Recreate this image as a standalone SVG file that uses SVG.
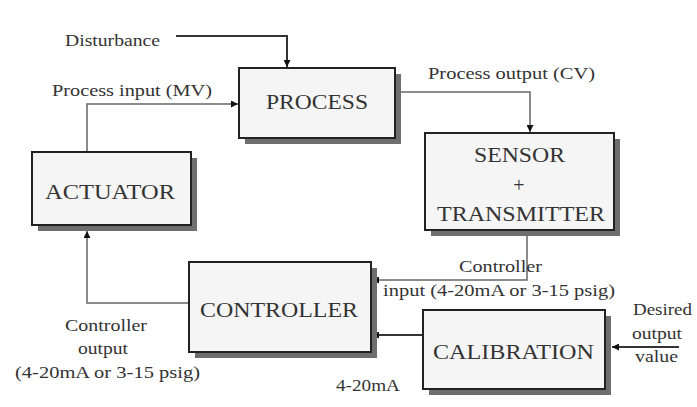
<svg xmlns="http://www.w3.org/2000/svg" width="697" height="407" viewBox="0 0 697 407">
<style>
.shadow{fill:#6e6e6e;}
.box{fill:#f5f5f5;stroke:#222;stroke-width:2;}
text{font-family:"Times New Roman","Liberation Serif",Tinos,"DejaVu Serif",serif;fill:#333;}
.lbl{font-size:17px;}
.big{font-size:20px;}
.con{fill:none;stroke:#666;stroke-width:1.5;}
.dist{fill:none;stroke:#333;stroke-width:2;}
</style>
<defs>
<marker id="ah" viewBox="0 0 10 10" refX="10" refY="5" markerWidth="7" markerHeight="7" markerUnits="userSpaceOnUse" orient="auto">
<path d="M0,0 L10,5 L0,10 z" fill="#111"/>
</marker>
</defs>
<rect width="697" height="407" fill="#ffffff"/>
<g id="connectors">
<path class="dist" d="M176,36 H287 V67" marker-end="url(#ah)"/>
<path class="con" d="M87,152 V104 H238" marker-end="url(#ah)"/>
<path class="con" d="M395,92 H530 V132" marker-end="url(#ah)"/>
<path class="con" d="M527,236 V280 H372" marker-end="url(#ah)"/>
<path class="con" d="M423,335 H372" marker-end="url(#ah)" style="stroke:#333;stroke-width:2"/>
<path class="con" d="M189,303 H87 V231" marker-end="url(#ah)"/>
<path class="dist" d="M679,347 H612" marker-end="url(#ah)"/>
</g>
<g id="process">
<rect class="shadow" x="245" y="74" width="156" height="70"/>
<rect class="box" x="239" y="68" width="156" height="70"/>
<text class="big" x="266" y="109" textLength="102" lengthAdjust="spacingAndGlyphs">PROCESS</text>
</g>
<g id="sensor">
<rect class="shadow" x="431" y="139" width="189" height="97"/>
<rect class="box" x="425" y="133" width="189" height="97"/>
<text class="big" x="474" y="162" textLength="91" lengthAdjust="spacingAndGlyphs">SENSOR</text>
<text class="big" x="519" y="192" text-anchor="middle">+</text>
<text class="big" x="437" y="221" textLength="168" lengthAdjust="spacingAndGlyphs">TRANSMITTER</text>
</g>
<g id="actuator">
<rect class="shadow" x="38" y="158" width="159" height="73"/>
<rect class="box" x="32" y="152" width="159" height="73"/>
<text class="big" x="45" y="199" textLength="130" lengthAdjust="spacingAndGlyphs">ACTUATOR</text>
</g>
<g id="controller">
<rect class="shadow" x="195" y="268" width="182" height="90"/>
<rect class="box" x="189" y="262" width="182" height="90"/>
<text class="big" x="200" y="317" textLength="158" lengthAdjust="spacingAndGlyphs">CONTROLLER</text>
</g>
<g id="calibration">
<rect class="shadow" x="429" y="316" width="182" height="79"/>
<rect class="box" x="423" y="310" width="182" height="79"/>
<text class="big" x="433" y="359" textLength="161" lengthAdjust="spacingAndGlyphs">CALIBRATION</text>
</g>
<g id="labels">
<text class="lbl" x="65" y="46" textLength="95" lengthAdjust="spacingAndGlyphs">Disturbance</text>
<text class="lbl" x="52" y="96" textLength="160" lengthAdjust="spacingAndGlyphs">Process input (MV)</text>
<text class="lbl" x="428" y="79" textLength="167" lengthAdjust="spacingAndGlyphs">Process output (CV)</text>
<text class="lbl" x="459" y="272" textLength="83" lengthAdjust="spacingAndGlyphs">Controller</text>
<text class="lbl" x="383" y="296" textLength="232" lengthAdjust="spacingAndGlyphs">input (4-20mA or 3-15 psig)</text>
<text class="lbl" x="633" y="315" textLength="59" lengthAdjust="spacingAndGlyphs">Desired</text>
<text class="lbl" x="632" y="339" textLength="50" lengthAdjust="spacingAndGlyphs">output</text>
<text class="lbl" x="635" y="362" textLength="43" lengthAdjust="spacingAndGlyphs">value</text>
<text class="lbl" x="336" y="391" textLength="64" lengthAdjust="spacingAndGlyphs">4-20mA</text>
<text class="lbl" x="65" y="331" textLength="82" lengthAdjust="spacingAndGlyphs">Controller</text>
<text class="lbl" x="78" y="354" textLength="50" lengthAdjust="spacingAndGlyphs">output</text>
<text class="lbl" x="15" y="378" textLength="185" lengthAdjust="spacingAndGlyphs">(4-20mA or 3-15 psig)</text>
</g>
</svg>
